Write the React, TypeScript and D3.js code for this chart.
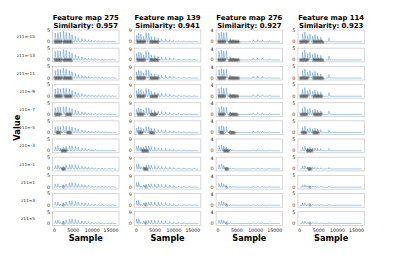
import React from "react";
import * as d3 from "d3";

const COLUMN_TITLES = ["Feature map 275", "Feature map 139", "Feature map 276", "Feature map 114"];
const SIMILARITIES = ["0.957", "0.941", "0.927", "0.923"];
const ROW_LABELS = ["z11=-15", "z11=-13", "z11=-11", "z11=-9", "z11=-7", "z11=-5", "z11=-3", "z11=-1", "z11=1", "z11=3", "z11=5"];
const Y_TICK_MAX = [5, 9, 4, 5];
const Y_DOMAINS: [number, number][] = [[-0.87, 5.2], [-1.6, 9.8], [-0.73, 4.36], [-0.87, 5.2]];
const X_TICKS = [0, 5000, 10000, 15000];
const X_DOMAIN: [number, number] = [-500, 17100];
const SAMPLE_END = 16400;

// peak positions (samples)
const PEAKS_275 = [200, 900, 1550, 2400, 3100, 3950, 4650, 5500, 6300, 7250, 8100, 9000, 9900, 10800, 11700, 12600, 13500, 14400, 15300];
const PEAKS_139 = [100, 650, 1250, 1950, 2600, 3300, 3950, 4900, 5800, 6700, 7750, 8850, 9950, 11250, 12600, 13950, 15300];
const PEAKS_276 = [250, 900, 1500, 2200, 3200, 4000, 9300, 10500, 11700, 13600];
const PEAKS_114 = [700, 1330, 2050, 2670, 3390, 4000, 4720, 5520, 7700];

// peak heights per row
const HEIGHTS_275 = [
  [3.9, 4.1, 4.3, 4.7, 4.2, 3.8, 3.2, 2.4, 1.8, 1.4, 1.1, 0.9, 0.7, 0.6, 0.5, 0.4, 0.35, 0.3, 0.3],
  [3.8, 4.2, 4.0, 4.6, 4.3, 3.6, 3.0, 2.3, 1.7, 1.3, 1.0, 0.8, 0.7, 0.6, 0.5, 0.4, 0.35, 0.3, 0.3],
  [3.4, 4.0, 3.8, 4.4, 4.0, 3.4, 2.8, 2.1, 1.6, 1.2, 1.0, 0.8, 0.6, 0.5, 0.45, 0.4, 0.3, 0.3, 0.25],
  [3.2, 3.6, 3.4, 3.6, 3.6, 3.2, 2.6, 2.0, 1.5, 1.2, 0.9, 0.7, 0.6, 0.5, 0.4, 0.35, 0.3, 0.25, 0.25],
  [3.0, 3.3, 3.2, 3.4, 3.5, 3.0, 2.6, 2.0, 1.5, 1.2, 0.9, 0.7, 0.6, 0.5, 0.4, 0.35, 0.3, 0.25, 0.25],
  [2.5, 2.8, 2.7, 2.9, 2.9, 2.8, 2.5, 2.0, 1.6, 1.2, 0.9, 0.7, 0.6, 0.5, 0.4, 0.35, 0.3, 0.25, 0.25],
  [1.8, 2.2, 1.2, 1.6, 2.0, 2.2, 2.2, 2.0, 1.6, 1.3, 1.0, 0.8, 0.6, 0.5, 0.4, 0.35, 0.3, 0.25, 0.25],
  [1.5, 1.8, 1.0, 1.3, 1.8, 2.0, 2.0, 1.9, 1.6, 1.3, 1.0, 0.8, 0.6, 0.5, 0.4, 0.35, 0.3, 0.25, 0.25],
  [1.4, 1.5, 0.6, 1.0, 1.4, 1.8, 2.0, 1.8, 1.5, 1.2, 1.0, 0.8, 0.6, 0.5, 0.4, 0.35, 0.3, 0.25, 0.25],
  [1.4, 1.5, 0.6, 1.0, 1.5, 1.9, 2.0, 1.8, 1.5, 1.2, 1.0, 0.8, 0.6, 0.5, 0.4, 0.35, 0.3, 0.25, 0.25],
  [1.3, 1.5, 0.6, 1.0, 1.5, 1.9, 2.1, 1.8, 1.5, 1.2, 1.0, 0.8, 0.6, 0.5, 0.4, 0.35, 0.3, 0.25, 0.25],
];
const HEIGHTS_139 = [
  [5.5, 7.0, 6.6, 4.5, 7.6, 7.1, 4.5, 3.8, 3.2, 2.6, 2.3, 1.8, 1.3, 1.0, 0.8, 0.6, 0.5],
  [5.2, 6.8, 6.4, 4.3, 7.4, 6.9, 4.4, 3.7, 3.1, 2.5, 2.2, 1.7, 1.3, 1.0, 0.8, 0.6, 0.5],
  [5.0, 6.4, 6.0, 4.2, 7.0, 6.6, 4.3, 3.6, 3.0, 2.5, 2.2, 1.7, 1.3, 1.0, 0.8, 0.6, 0.5],
  [4.6, 6.0, 5.6, 4.0, 6.5, 6.2, 4.2, 3.5, 3.0, 2.5, 2.1, 1.7, 1.3, 1.0, 0.8, 0.6, 0.5],
  [4.2, 5.4, 5.0, 3.8, 5.8, 5.6, 4.0, 3.4, 2.9, 2.4, 2.1, 1.7, 1.3, 1.0, 0.8, 0.6, 0.5],
  [3.8, 4.8, 4.2, 3.4, 5.0, 4.8, 3.8, 3.3, 2.8, 2.4, 2.0, 1.6, 1.3, 1.0, 0.8, 0.6, 0.5],
  [3.6, 4.2, 3.0, 2.8, 4.0, 4.0, 3.5, 3.0, 2.7, 2.3, 2.0, 1.6, 1.2, 1.0, 0.8, 0.6, 0.5],
  [3.8, 4.2, 2.0, 2.2, 3.2, 3.4, 3.2, 2.9, 2.6, 2.2, 1.9, 1.5, 1.2, 1.0, 0.8, 0.6, 0.5],
  [3.8, 4.2, 1.0, 1.8, 2.4, 2.6, 2.8, 2.8, 2.6, 2.3, 2.0, 1.6, 1.3, 1.0, 0.8, 0.6, 0.5],
  [3.8, 4.2, 1.0, 1.8, 2.4, 2.6, 2.8, 2.8, 2.6, 2.3, 2.0, 1.6, 1.3, 1.0, 0.8, 0.6, 0.5],
  [3.7, 4.1, 1.0, 1.8, 2.4, 2.6, 2.8, 2.8, 2.6, 2.3, 2.0, 1.6, 1.3, 1.0, 0.8, 0.6, 0.5],
];
const HEIGHTS_276 = [
  [3.3, 3.6, 3.4, 3.5, 1.2, 0.8, 0.7, 0.8, 0.7, 0.4],
  [3.2, 3.6, 3.3, 3.4, 1.2, 0.8, 0.7, 0.8, 0.7, 0.4],
  [3.1, 3.5, 3.2, 3.3, 1.1, 0.7, 0.7, 0.8, 0.6, 0.4],
  [2.9, 3.3, 3.0, 3.1, 1.0, 0.7, 0.6, 0.7, 0.6, 0.35],
  [2.6, 3.0, 2.7, 2.7, 0.9, 0.6, 0.6, 0.7, 0.6, 0.35],
  [2.3, 2.6, 2.3, 2.2, 0.8, 0.5, 0.5, 0.6, 0.5, 0.3],
  [1.9, 2.2, 1.8, 1.4, 0.6, 0.4, 0.4, 0.5, 0.4, 0.3],
  [1.6, 1.8, 1.4, 0.8, 0.4, 0.3, 0.3, 0.4, 0.3, 0.2],
  [1.3, 1.5, 1.2, 0.4, 0.3, 0.2, 0.3, 0.3, 0.3, 0.2],
  [1.3, 1.5, 1.2, 0.4, 0.3, 0.2, 0.3, 0.3, 0.3, 0.2],
  [1.3, 1.4, 1.1, 0.4, 0.3, 0.2, 0.3, 0.3, 0.3, 0.2],
];
const HEIGHTS_114 = [
  [3.5, 4.4, 2.8, 3.5, 2.5, 3.2, 2.5, 2.0, 1.7],
  [3.4, 4.3, 2.8, 3.4, 2.5, 3.1, 2.4, 2.0, 1.7],
  [3.3, 4.1, 2.7, 3.3, 2.4, 3.0, 2.3, 1.9, 1.6],
  [3.0, 3.8, 2.5, 3.0, 2.2, 2.8, 2.1, 1.8, 1.5],
  [2.7, 3.4, 2.2, 2.7, 2.0, 2.5, 1.9, 1.6, 1.4],
  [2.3, 2.9, 1.8, 2.2, 1.7, 2.0, 1.6, 1.3, 1.2],
  [1.8, 2.2, 1.3, 1.5, 1.2, 1.3, 1.1, 0.9, 1.0],
  [1.3, 1.5, 0.8, 0.8, 0.7, 0.7, 0.6, 0.5, 0.7],
  [1.0, 1.1, 0.4, 0.3, 0.5, 0.3, 0.3, 0.3, 0.4],
  [1.0, 1.1, 0.4, 0.3, 0.5, 0.3, 0.3, 0.3, 0.4],
  [0.9, 1.0, 0.4, 0.3, 0.5, 0.3, 0.3, 0.3, 0.4],
];

// grey marker clusters per row: [start, end] in samples
const DOTS_275 = [
  [[0, 2000], [2400, 4600]], [[0, 2000], [2400, 4600]], [[0, 2000], [2400, 4600]],
  [[200, 2000], [2700, 4600]], [[150, 1700], [3100, 4600]], [[500, 1700], [3300, 4400]],
  [[1800, 3300]], [[2000, 2800]], [[2300, 2500]], [[2300, 2500]], [[2300, 2500]],
];
const DOTS_139 = [
  [[200, 2400], [3700, 5900]], [[200, 2400], [3700, 5900]], [[200, 2400], [3700, 5900]],
  [[300, 2300], [3800, 5700]], [[400, 2000], [3800, 5500]], [[600, 1800], [3600, 4800]],
  [[1500, 3200]], [[2000, 3000]], [[2400, 2600]], [[2400, 2600]], [[2400, 2600]],
];
const DOTS_276 = [
  [[0, 2000], [2900, 5600]], [[0, 2000], [2900, 5600]], [[0, 2000], [2900, 5600]],
  [[100, 1900], [3000, 5400]], [[200, 1800], [3000, 5200]], [[500, 1500], [3000, 4500]],
  [[1500, 3000]], [[1900, 2700]], [[2200, 2400]], [[2200, 2400]], [[2200, 2400]],
];
const DOTS_114 = [
  [[0, 2200], [3550, 6200]], [[0, 2200], [3550, 6200]], [[0, 2200], [3550, 6200]],
  [[100, 2100], [3600, 6000]], [[200, 2000], [3700, 5800]], [[500, 1800], [3500, 5000]],
  [[1800, 3400]], [[2200, 3000]], [[2600, 2800]], [[2600, 2800]], [[2600, 2800]],
];

const PEAKS = [PEAKS_275, PEAKS_139, PEAKS_276, PEAKS_114];
const HEIGHTS = [HEIGHTS_275, HEIGHTS_139, HEIGHTS_276, HEIGHTS_114];
const DOTS = [DOTS_275, DOTS_139, DOTS_276, DOTS_114];

// layout (styling)
const W = 407, H = 255;
const LEFT0 = 52.5, COL_STEP = 81.8, PW = 66.5;
const TOP0 = 30, ROW_STEP = 18.17, PH = 13.7;
const FONT = "DejaVu Sans, sans-serif";
const DOT_JITTER = [-0.9, 0.6, -0.2, 1.0, -0.6, 0.3];

function buildSeries(peaks: number[], heights: number[]): [number, number][] {
  const pts: [number, number][] = [[0, 0]];
  peaks.forEach((p, i) => {
    pts.push([p - 90, 0]);
    pts.push([p, heights[i]]);
    pts.push([p + 320, 0]);
  });
  pts.push([SAMPLE_END, 0]);
  return pts;
}

function Panel({ col, row }: { col: number; row: number }) {
  const x0 = LEFT0 + col * COL_STEP;
  const y0 = TOP0 + row * ROW_STEP;
  const x = d3.scaleLinear().domain(X_DOMAIN).range([x0, x0 + PW]);
  const y = d3.scaleLinear().domain(Y_DOMAINS[col]).range([y0 + PH, y0]);
  const line = d3.line<[number, number]>().x((d) => x(d[0])).y((d) => y(d[1]));
  const series = buildSeries(PEAKS[col], HEIGHTS[col][row]);
  const dots: { cx: number; cy: number }[] = [];
  let k = 0;
  (DOTS[col][row] as number[][]).forEach(([a, b]) => {
    for (const s of d3.range(a, b + 1, 110)) {
      dots.push({ cx: x(s), cy: y(0) + DOT_JITTER[k % DOT_JITTER.length] });
      k++;
    }
  });
  const last = row === ROW_LABELS.length - 1;
  return (
    <g>
      <rect x={x0} y={y0} width={PW} height={PH} fill="white" stroke="#cccccc" strokeWidth={0.8} />
      <path d={line(series) || ""} fill="none" stroke="#1f77b4" strokeOpacity={0.55} strokeWidth={0.7} />
      {dots.map((d, i) => (
        <circle key={i} cx={d.cx} cy={d.cy} r={1.3} fill="#505050" fillOpacity={0.3} />
      ))}
      <text x={x0 - 2.5} y={y(Y_TICK_MAX[col])} fontSize={4.8} fontFamily={FONT} textAnchor="end" dominantBaseline="central" fill="#222">
        {Y_TICK_MAX[col]}
      </text>
      <text x={x0 - 2.5} y={y(0)} fontSize={4.8} fontFamily={FONT} textAnchor="end" dominantBaseline="central" fill="#222">
        0
      </text>
      {last &&
        X_TICKS.map((t) => (
          <text key={t} x={x(t)} y={y0 + PH + 6.8} fontSize={4.7} fontFamily={FONT} textAnchor="middle" fill="#222">
            {t}
          </text>
        ))}
    </g>
  );
}

export default function App() {
  return (
    <svg width={W} height={H} style={{ position: "absolute", left: 0, top: 0, background: "white" }}>
      {COLUMN_TITLES.map((t, c) => {
        const cx = LEFT0 + c * COL_STEP + PW / 2;
        return (
          <g key={t}>
            <text x={cx} y={20.2} fontSize={6.9} fontWeight="bold" fontFamily={FONT} textAnchor="middle" fill="#000">
              {t}
            </text>
            <text x={cx} y={28.3} fontSize={6.9} fontWeight="bold" fontFamily={FONT} textAnchor="middle" fill="#000">
              {"Similarity: " + SIMILARITIES[c]}
            </text>
            <text x={cx} y={241} fontSize={8.2} fontWeight="bold" fontFamily={FONT} textAnchor="middle" fill="#000">
              Sample
            </text>
          </g>
        );
      })}
      {ROW_LABELS.map((r, i) => (
        <text key={r} x={35} y={TOP0 + i * ROW_STEP + PH / 2} fontSize={4.3} fontFamily={FONT} textAnchor="end" dominantBaseline="central" fill="#222">
          {r}
        </text>
      ))}
      <text transform={`translate(20,${TOP0 + (ROW_STEP * 10 + PH) / 2}) rotate(-90)`} fontSize={8.3} fontWeight="bold" fontFamily={FONT} textAnchor="middle" fill="#000">
        Value
      </text>
      {COLUMN_TITLES.map((_, c) => ROW_LABELS.map((_, r) => <Panel key={`${c}-${r}`} col={c} row={r} />))}
    </svg>
  );
}
